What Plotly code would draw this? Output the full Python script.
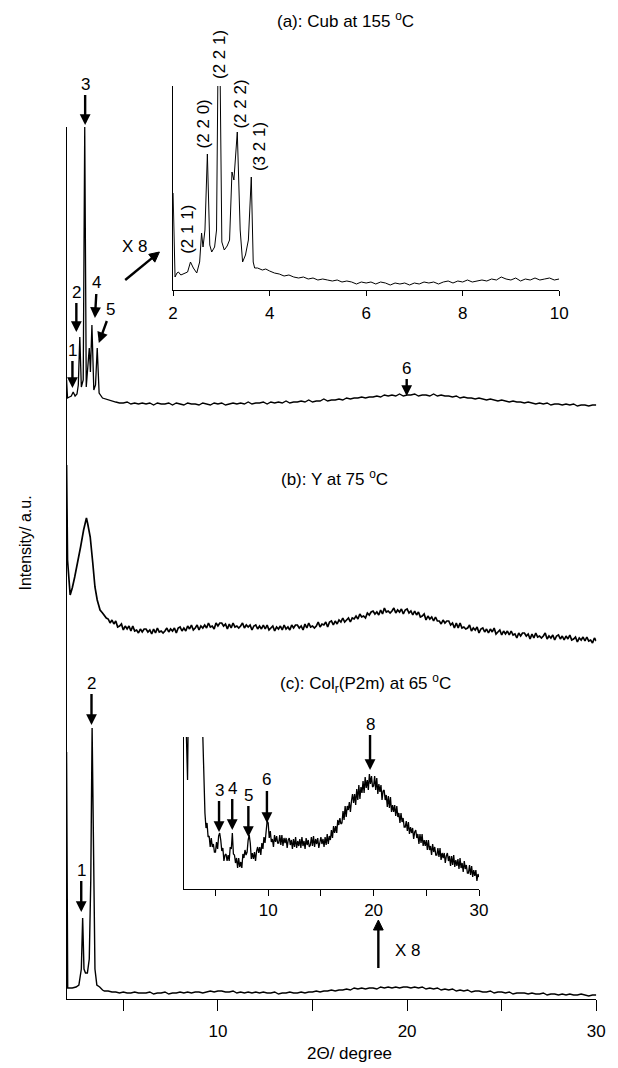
import math
import plotly.graph_objects as go

FONT = "Liberation Sans, Arial, sans-serif"
W, H = 618, 1068


def grid(start, step, n):
    return [round(start + i * step, 3) for i in range(n)]


# ---------------- data (intensities in arbitrary units) ----------------
# (a) Cub at 155 C, main curve: low-angle part, then every 0.2 deg from 4.2
A_X_HEAD = [2.00, 2.05, 2.15, 2.25, 2.35, 2.45, 2.55, 2.62, 2.70, 2.78, 2.88, 2.96,
            3.04, 3.12, 3.20, 3.26, 3.34, 3.44, 3.53, 3.62, 3.72, 3.90, 4.05]
A_Y_HEAD = [619, 601, 602, 603, 607, 603, 605, 614, 662, 612, 619, 872,
            612, 629, 651, 627, 674, 609, 614, 651, 606, 601, 600]
A_Y_TAIL = [599, 598, 597, 596, 596, 597, 595, 596, 595, 596,
            595, 596, 594, 596, 595, 595, 596, 594, 596, 595,
            594, 596, 595, 595, 594, 596, 595, 594, 596, 595,
            596, 594, 595, 596, 595, 596, 595, 597, 595, 596,
            596, 597, 595, 597, 596, 597, 596, 598, 596, 597,
            597, 598, 597, 599, 597, 598, 598, 600, 598, 599,
            599, 600, 599, 601, 600, 601, 601, 602, 601, 602,
            602, 603, 602, 604, 603, 604, 603, 605, 603, 604,
            604, 605, 603, 604, 604, 603, 605, 603, 604, 603,
            603, 602, 603, 601, 602, 601, 601, 600, 601, 600,
            599, 600, 599, 598, 599, 598, 597, 598, 597, 597,
            596, 597, 596, 595, 596, 595, 596, 594, 595, 595,
            594, 595, 594, 595, 593, 594, 594, 593, 594, 594]

# (b) Y at 75 C: low-angle part, then every 0.1 deg from 4.2
B_X_HEAD = [2.00, 2.05, 2.19, 2.30, 2.43, 2.60, 2.74, 2.90, 3.00, 3.05, 3.12,
            3.25, 3.38, 3.50, 3.62, 3.77, 3.90, 4.00, 4.10]
B_Y_HEAD = [534, 439, 404, 411, 422, 437, 452, 469, 478, 481, 475,
            462, 437, 412, 399, 389, 386, 383, 381]
B_Y_TAIL = [380, 376, 379, 375, 378, 372, 373, 375, 369, 373,
            370, 373, 368, 373, 368, 369, 366, 370, 367, 370,
            370, 367, 369, 365, 370, 366, 371, 367, 368, 366,
            368, 371, 367, 370, 368, 371, 366, 371, 372, 368,
            371, 368, 373, 370, 374, 369, 371, 374, 369, 373,
            371, 374, 371, 376, 372, 373, 370, 376, 373, 376,
            376, 373, 375, 370, 375, 371, 376, 372, 373, 371,
            373, 376, 371, 374, 372, 374, 369, 373, 374, 370,
            373, 370, 374, 370, 374, 369, 371, 373, 368, 372,
            370, 373, 369, 374, 370, 372, 369, 374, 371, 374,
            374, 371, 373, 369, 375, 371, 376, 372, 373, 371,
            373, 377, 372, 375, 374, 377, 372, 377, 378, 374,
            378, 375, 379, 377, 381, 377, 379, 381, 377, 381,
            380, 383, 380, 385, 382, 383, 381, 386, 384, 387,
            388, 385, 387, 384, 389, 385, 391, 387, 388, 386,
            388, 391, 386, 389, 387, 390, 385, 389, 390, 386,
            388, 384, 388, 384, 387, 382, 383, 385, 379, 383,
            380, 382, 378, 382, 378, 378, 375, 379, 376, 378,
            378, 374, 376, 371, 376, 371, 376, 371, 372, 370,
            371, 374, 368, 371, 369, 372, 366, 370, 371, 367,
            370, 366, 370, 367, 371, 365, 367, 369, 364, 368,
            365, 368, 364, 368, 364, 365, 361, 366, 363, 366,
            366, 363, 365, 360, 365, 361, 366, 362, 363, 361,
            363, 366, 360, 363, 361, 364, 359, 363, 364, 360,
            363, 359, 363, 360, 364, 359, 360, 362, 357, 361,
            359, 362, 358, 362, 358, 359, 356, 361, 358]

# (c) Col_r(P2m) at 65 C: low-angle part, then every 0.2 deg from 4.2
C_X_HEAD = [2.00, 2.06, 2.30, 2.50, 2.65, 2.78, 2.85, 2.92, 3.00, 3.10, 3.20,
            3.28, 3.35, 3.42, 3.50, 3.60, 3.75, 3.90, 4.00]
C_Y_HEAD = [247, 11, 11, 12, 14, 30, 81, 30, 26, 26, 40,
            120, 271, 120, 30, 14, 12, 9, 8]
C_Y_TAIL = [8, 7, 7, 6, 7, 6, 6, 7, 6, 6,
            6, 7, 5, 6, 6, 7, 5, 6, 6, 7,
            6, 7, 6, 7, 7, 6, 7, 8, 7, 8,
            8, 7, 7, 8, 6, 7, 6, 7, 6, 7,
            6, 7, 6, 6, 7, 5, 6, 6, 7, 6,
            6, 7, 6, 7, 7, 8, 7, 8, 8, 9,
            8, 9, 9, 10, 9, 11, 10, 11, 10, 11,
            11, 10, 12, 11, 12, 11, 12, 11, 12, 12,
            11, 12, 11, 12, 10, 11, 10, 11, 9, 10,
            9, 10, 8, 9, 8, 9, 7, 8, 8, 7,
            7, 8, 6, 7, 7, 6, 7, 5, 6, 6,
            6, 5, 6, 5, 5, 6, 4, 5, 5, 4,
            5, 4, 5, 4, 4, 5, 4, 3, 4, 4]

# inset of (a), x 8: low-angle part, then every 0.1 deg from 4.0
IA_X_HEAD = [2.00, 2.04, 2.08, 2.11, 2.16, 2.22, 2.30, 2.36, 2.42, 2.49, 2.55,
             2.59, 2.62, 2.66, 2.71, 2.76, 2.80, 2.86, 2.90, 2.95, 3.01, 3.06,
             3.12, 3.17, 3.22, 3.26, 3.29, 3.33, 3.39, 3.44, 3.50, 3.56, 3.62,
             3.66, 3.69, 3.75, 3.85, 3.92]
IA_Y_HEAD = [97, 13, 17, 18, 15, 16, 18, 28, 22, 17, 28,
             57, 43, 60, 136, 45, 38, 43, 60, 330, 48, 40,
             44, 50, 118, 110, 130, 158, 60, 28, 35, 50, 113,
             28, 22, 22, 20, 21]
IA_Y_TAIL = [19, 17, 16, 14, 15, 13, 12, 13, 11, 12,
             10, 11, 10, 9, 10, 8, 9, 8, 6, 8,
             7, 8, 6, 8, 7, 5, 7, 6, 7, 5,
             7, 6, 8, 7, 8, 6, 8, 9, 7, 9,
             8, 10, 8, 9, 10, 9, 11, 10, 13, 11,
             10, 12, 9, 11, 10, 12, 10, 11, 12, 10,
             11]

# inset of (c), x 8: low-angle part, then every 0.1 deg from 4.0
IC_X_HEAD = [2.00, 2.20, 2.35, 2.47, 2.85, 3.10, 3.35, 3.60, 3.78, 3.90]
IC_Y_HEAD = [200, 170, 109, 200, 600, 200, 2000, 300, 160, 110]
IC_Y_TAIL = [76, 61, 66, 52, 53, 42, 51, 42, 45, 37,
             37, 47, 40, 53, 56, 49, 38, 41, 28, 34,
             35, 28, 34, 28, 42, 40, 56, 35, 34, 26,
             31, 21, 31, 22, 27, 21, 35, 31, 39, 34,
             37, 49, 54, 46, 30, 36, 30, 37, 28, 38,
             42, 36, 42, 34, 46, 40, 52, 46, 58, 68,
             66, 51, 58, 47, 50, 42, 54, 47, 53, 46,
             46, 54, 44, 54, 43, 51, 46, 51, 41, 49,
             51, 44, 49, 40, 50, 42, 52, 41, 48, 43,
             50, 41, 52, 43, 48, 40, 51, 44, 49, 42,
             44, 52, 43, 53, 42, 50, 45, 51, 41, 49,
             52, 45, 50, 42, 52, 44, 55, 45, 53, 49,
             59, 51, 63, 56, 63, 56, 69, 64, 71, 65,
             66, 78, 69, 83, 72, 83, 79, 87, 77, 88,
             95, 86, 95, 84, 100, 89, 104, 90, 102, 96,
             108, 96, 112, 101, 109, 99, 115, 105, 113, 102,
             103, 113, 99, 111, 95, 105, 97, 104, 89, 98,
             99, 89, 94, 82, 93, 81, 92, 77, 84, 77,
             84, 73, 83, 72, 76, 66, 76, 67, 71, 62,
             62, 68, 58, 67, 55, 62, 56, 61, 50, 57,
             59, 51, 55, 45, 55, 46, 55, 43, 49, 43,
             49, 39, 49, 39, 43, 34, 45, 37, 42, 34,
             34, 41, 32, 41, 29, 36, 31, 36, 26, 33,
             36, 28, 33, 23, 33, 24, 34, 22, 29, 23,
             30, 20, 31, 21, 26, 17, 28, 20, 24, 16,
             16, 24, 14, 23, 12, 19, 13, 19, 8, 15,
             12]

MAJOR_TICKS = [10, 20, 30]
MINOR_TICKS = [5, 15, 25]
INSET_A_TICKS = [2, 4, 6, 8, 10]
HKL = ["(2 1 1)", "(2 2 0)", "(2 2 1)", "(2 2 2)", "(3 2 1)"]

ax_x = A_X_HEAD + grid(4.2, 0.2, len(A_Y_TAIL))
ax_y = A_Y_HEAD + A_Y_TAIL
bx = B_X_HEAD + grid(4.2, 0.1, len(B_Y_TAIL))
by = B_Y_HEAD + B_Y_TAIL
cx = C_X_HEAD + grid(4.2, 0.2, len(C_Y_TAIL))
cy = C_Y_HEAD + C_Y_TAIL
iax = IA_X_HEAD + grid(4.0, 0.1, len(IA_Y_TAIL))
iay = IA_Y_HEAD + IA_Y_TAIL
icx = IC_X_HEAD + grid(4.0, 0.1, len(IC_Y_TAIL))
icy = IC_Y_HEAD + IC_Y_TAIL

fig = go.Figure()


def line(w):
    return dict(color="black", width=w)


fig.add_trace(go.Scatter(x=ax_x, y=ax_y, mode="lines", line=line(1.3), xaxis="x", yaxis="y"))
fig.add_trace(go.Scatter(x=bx, y=by, mode="lines", line=line(1.7), xaxis="x", yaxis="y"))
fig.add_trace(go.Scatter(x=cx, y=cy, mode="lines", line=line(1.4), xaxis="x", yaxis="y"))
fig.add_trace(go.Scatter(x=iax, y=iay, mode="lines", line=line(1.0), xaxis="x2", yaxis="y2"))
fig.add_trace(go.Scatter(x=icx, y=icy, mode="lines", line=line(1.3), xaxis="x3", yaxis="y3"))


def px(x):
    return x / W


def py(y):
    return (H - y) / H


TF = dict(family=FONT, size=17, color="black")
common_x = dict(showline=True, linecolor="black", linewidth=1, ticks="outside",
                tickcolor="black", tickwidth=1, showgrid=False, zeroline=False,
                tickfont=TF)
common_y = dict(showline=True, linecolor="black", linewidth=1, ticks="",
                showticklabels=False, showgrid=False, zeroline=False)


def minor(length):
    return dict(tickvals=MINOR_TICKS, ticks="outside", ticklen=length,
                tickcolor="black", tickwidth=1, showgrid=False)


fig.update_layout(
    width=W, height=H, autosize=False,
    margin=dict(l=0, r=0, t=0, b=0),
    paper_bgcolor="white", plot_bgcolor="rgba(0,0,0,0)",
    showlegend=False,
    font=TF,
    xaxis=dict(domain=[px(63), px(605)], range=[2, 30], tickvals=MAJOR_TICKS,
               ticklen=11, minor=minor(11), anchor="y",
               ticklabelstandoff=6, **common_x),
    yaxis=dict(domain=[py(999), py(127)], range=[0, 872], anchor="x", **common_y),
    xaxis2=dict(domain=[px(172), px(567)], range=[2, 10], tickvals=INSET_A_TICKS,
                ticklen=5, anchor="y2", ticklabelstandoff=3, **common_x),
    yaxis2=dict(domain=[py(290), py(86)], range=[0, 204], anchor="x2", **common_y),
    xaxis3=dict(domain=[px(183), px(485)], range=[2, 30], tickvals=MAJOR_TICKS,
                ticklen=6, minor=minor(6), anchor="y3", **common_x),
    yaxis3=dict(domain=[py(889), py(737)], range=[0, 152], anchor="x3", **common_y),
)

ann = []
shapes = []
ARROW = dict(arrowhead=2, arrowsize=0.9, arrowwidth=2.4, arrowcolor="black", standoff=0)


def text(x, y, s, angle=0, size=17):
    ann.append(dict(x=px(x), y=py(y), xref="paper", yref="paper", text=s, showarrow=False,
                    font=dict(family=FONT, size=size, color="black"),
                    xanchor="center", yanchor="middle", textangle=angle))


def labelled_arrow(s, label, tip):
    # label centre and arrow tip, in screen pixels
    ann.append(dict(x=px(tip[0]), y=py(tip[1]), xref="paper", yref="paper", text=s,
                    showarrow=True, ax=label[0] - tip[0], ay=label[1] - tip[1],
                    axref="pixel", ayref="pixel", font=TF, **ARROW))


def shape_arrow(tail, tip, head_len=10.0, half_w=5.0, width=2.4):
    # arrow drawn as shapes (shaft + filled head), positions in screen pixels
    dx, dy = tip[0] - tail[0], tip[1] - tail[1]
    n = math.hypot(dx, dy)
    ux, uy = dx / n, dy / n
    bx_, by_ = tip[0] - ux * head_len, tip[1] - uy * head_len
    shapes.append(dict(type="line", xref="paper", yref="paper",
                       x0=px(tail[0]), y0=py(tail[1]), x1=px(bx_ + ux), y1=py(by_ + uy),
                       line=dict(color="black", width=width)))
    p1 = (bx_ - uy * half_w, by_ + ux * half_w)
    p2 = (bx_ + uy * half_w, by_ - ux * half_w)
    path = "M {} {} L {} {} L {} {} Z".format(px(tip[0]), py(tip[1]), px(p1[0]), py(p1[1]),
                                             px(p2[0]), py(p2[1]))
    shapes.append(dict(type="path", xref="paper", yref="paper", path=path,
                       fillcolor="black", line=dict(color="black", width=1)))


# panel titles
text(348, 20, "(a): Cub at 155 <sup>o</sup>C")
text(337, 478, "(b): Y at 75 <sup>o</sup>C")
text(369, 683, "(c): Col<sub>r</sub>(P2m) at 65 <sup>o</sup>C")

# (a) peak markers
labelled_arrow("3", (82, 84), (82, 125))
labelled_arrow("2", (73, 292), (73, 332))
labelled_arrow("1", (69, 350), (69, 388))
labelled_arrow("4", (94, 283), (92, 318))
labelled_arrow("5", (108, 310), (96, 343))
labelled_arrow("6", (411, 368), (411, 396))
text(133, 246, "X 8")
shape_arrow((123, 280), (158, 252))

# (c) peak markers
labelled_arrow("1", (78, 870), (78, 912))
labelled_arrow("2", (88.5, 683), (88.5, 725))
text(412, 950, "X 8")
shape_arrow((382, 968), (382, 920))

# inset (a) hkl labels
for s, (hx, hy) in zip(HKL, [(186, 229), (204, 124), (220, 55), (240, 104), (261, 147)]):
    text(hx, hy, s, angle=-90)

# inset (c) markers
labelled_arrow("3", (219, 790), (219, 832))
labelled_arrow("4", (232.5, 788), (232.5, 830))
labelled_arrow("5", (249, 795), (249, 837))
labelled_arrow("6", (268, 780), (268, 823))
labelled_arrow("8", (373.5, 724), (373.5, 770))

# axis titles
text(20, 543, "Intensity/ a.u.", angle=-90, size=16)
text(352, 1053, "2\u0398/ degree")

fig.update_layout(annotations=ann, shapes=shapes)
fig.write_html("out.html")
